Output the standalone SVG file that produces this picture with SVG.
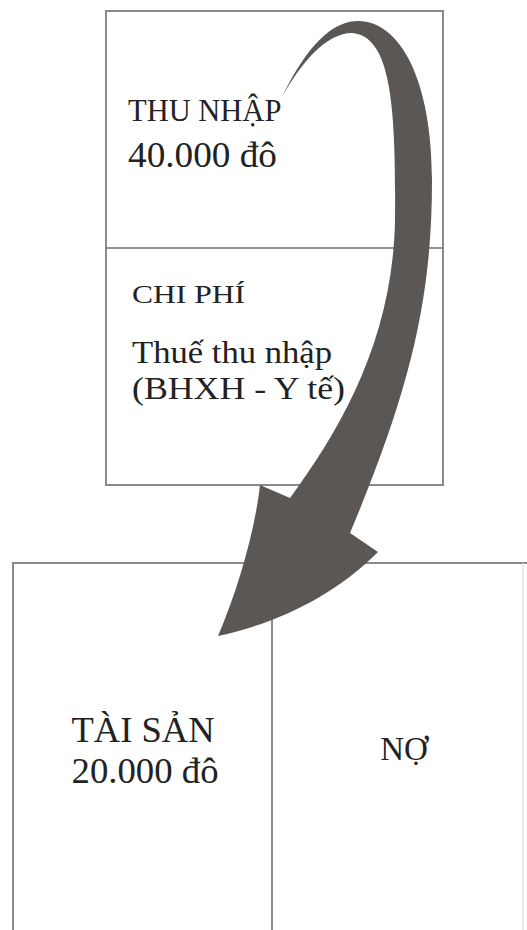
<svg xmlns="http://www.w3.org/2000/svg" width="527" height="930" viewBox="0 0 527 930">
  <style>
    .box { fill: none; stroke: #8a8a8a; stroke-width: 2; }
    .div { stroke: #707070; stroke-width: 1.6; }
    .t { font-family: "Liberation Serif", "Times New Roman", serif; fill: #222222; }
    .arrow { fill: #5a5754; stroke: none; }
  </style>
  <rect width="527" height="930" fill="#ffffff"/>

  <g id="top-box">
    <rect class="box" x="106" y="11" width="337" height="474"/>
  </g>

  <g id="thu-nhap">
    <line class="div" x1="106" y1="248" x2="443" y2="248"/>
    <text class="t" x="128" y="121" font-size="30.5">THU NHẬP</text>
    <text class="t" x="128" y="167" font-size="36" textLength="149" lengthAdjust="spacingAndGlyphs">40.000 đô</text>
  </g>

  <g id="chi-phi">
    <text class="t" x="132" y="303" font-size="25" textLength="113" lengthAdjust="spacingAndGlyphs">CHI PHÍ</text>
    <text class="t" x="132" y="363" font-size="31" textLength="200" lengthAdjust="spacingAndGlyphs">Thuế thu nhập</text>
    <text class="t" x="132" y="399" font-size="31" textLength="213" lengthAdjust="spacingAndGlyphs">(BHXH - Y tế)</text>
  </g>

  <g id="bottom-frame">
    <path class="box" d="M13 935 V563 H527"/>
    <line x1="523" y1="563" x2="523" y2="935" stroke="#e6e6e6" stroke-width="1.5"/>
  </g>

  <g id="tai-san">
    <line class="box" x1="272" y1="563" x2="272" y2="935"/>
    <text class="t" x="143" y="742" font-size="35" text-anchor="middle" textLength="143" lengthAdjust="spacingAndGlyphs">TÀI SẢN</text>
    <text class="t" x="145" y="783" font-size="35" text-anchor="middle" textLength="147" lengthAdjust="spacingAndGlyphs">20.000 đô</text>
  </g>

  <g id="no">
    <text class="t" x="404" y="760" font-size="33" text-anchor="middle">NỢ</text>
  </g>

  <g id="connectors">
    <path class="arrow" d="M282 97 C300 60 325 22 357 21 C400 20 432 80 432 180 C432 300 410 390 350 533 L378 552 C330 600 270 625 218 636 C238 590 255 530 260 485 L290 498 C340 430 393 340 395 220 C396 110 392 36 352 33 C325 33 300 65 282 97 Z"/>
  </g>
</svg>
